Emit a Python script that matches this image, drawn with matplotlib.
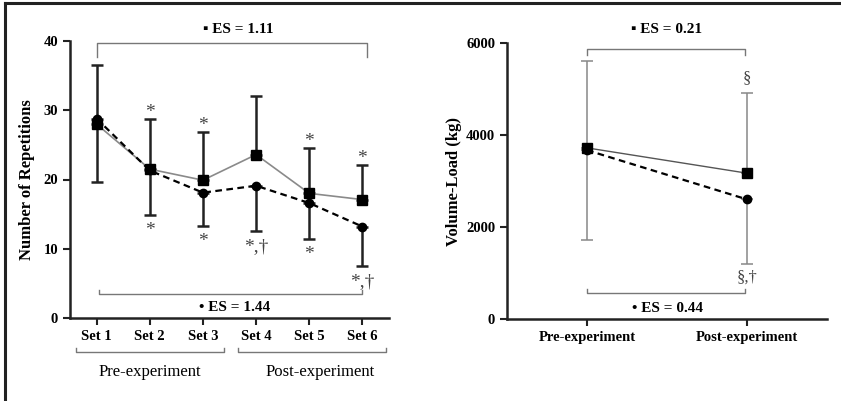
import matplotlib
matplotlib.use("Agg")
import matplotlib.pyplot as plt
from matplotlib.lines import Line2D

plt.rcParams['font.family'] = ['Liberation Serif', 'DejaVu Sans']

# left panel: repetitions per set
sets = ["Set 1", "Set 2", "Set 3", "Set 4", "Set 5", "Set 6"]
reps_sq = [28.0, 21.5, 19.9, 23.6, 18.0, 17.1]
reps_ci = [28.8, 21.3, 18.1, 19.1, 16.6, 13.2]
reps_sq_upper = [36.5, 28.7, 26.8, 32.1, 24.5, 22.1]
reps_ci_lower = [19.7, 14.9, 13.3, 12.6, 11.4, 7.5]
marks_above = ["", "*", "*", "", "*", "*"]
marks_below = ["", "*", "*", "*,†", "*", "*,†"]

# right panel: volume load
phases = ["Pre-experiment", "Post-experiment"]
vol_sq = [3720, 3170]
vol_ci = [3670, 2600]
vol_sq_upper = [5610, 4920]
vol_ci_lower = [1710, 1200]

fig = plt.figure(figsize=(8.41, 4.01), dpi=100)
ax1 = fig.add_axes([70 / 841, 83 / 401, 319 / 841, 277 / 401])
ax2 = fig.add_axes([507 / 841, 82 / 401, 320 / 841, 276 / 401])

# frame lines (top and left only, image is cropped)
fig.add_artist(Line2D([5 / 841, 1], [1 - 3 / 401, 1 - 3 / 401], color="#222222", lw=2.2))
fig.add_artist(Line2D([5 / 841, 5 / 841], [0, 1 - 3 / 401], color="#222222", lw=2.2))

br = "#777777"
x1 = list(range(1, 7))

# ---- left
up = [u - m for u, m in zip(reps_sq_upper, reps_sq)]
lo = [m - l for m, l in zip(reps_ci, reps_ci_lower)]
ax1.errorbar(x1, reps_sq, yerr=[[0] * 6, up], fmt="none", ecolor="#222222",
             elinewidth=1.8, capsize=4, capthick=1.8, zorder=2)
ax1.errorbar(x1, reps_ci, yerr=[lo, [0] * 6], fmt="none", ecolor="#222222",
             elinewidth=1.8, capsize=4, capthick=1.8, zorder=2)
ax1.plot(x1, reps_sq, color="#8a8a8a", lw=1.2, marker="s", ms=6.5,
         mfc="black", mec="black", zorder=3)
ax1.plot(x1, reps_ci, color="black", lw=1.6, ls=(0, (3, 2)), marker="o", ms=6,
         mfc="black", mec="black", zorder=4)

for i in range(6):
    if marks_above[i]:
        ax1.text(x1[i], reps_sq_upper[i] + 1.0, marks_above[i], ha="center",
                 va="center", fontsize=14, color="#444444")
    if marks_below[i]:
        ax1.text(x1[i], reps_ci_lower[i] - 2.3, marks_below[i], ha="center",
                 va="center", fontsize=14, color="#444444")

ax1.set_xlim(0.5, 6.5)
ax1.set_ylim(0, 40)
ax1.set_yticks([0, 10, 20, 30, 40])
ax1.set_xticks(x1)
ax1.set_xticklabels(sets)
ax1.set_ylabel("Number of Repetitions", fontsize=12, fontweight="bold", labelpad=6)

# brackets
ax1.plot([1, 1, 6.08, 6.08], [37.7, 39.7, 39.7, 37.7], color=br, lw=1, clip_on=False)
ax1.text(3.66, 41.6, "▪ ES = 1.11", ha="center", va="center", fontsize=11,
         fontweight="bold")
ax1.plot([1.05, 1.05, 6.0, 6.0], [4.0, 3.5, 3.5, 4.0], color=br, lw=1, clip_on=False)
ax1.text(3.6, 1.45, "• ES = 1.44", ha="center", va="center", fontsize=11,
         fontweight="bold")
ax1.plot([0.61, 0.61, 3.39, 3.39], [-4.3, -4.9, -4.9, -4.3], color=br, lw=1, clip_on=False)
ax1.plot([3.66, 3.66, 6.44, 6.44], [-4.3, -4.9, -4.9, -4.3], color=br, lw=1, clip_on=False)
ax1.text(2.0, -7.8, "Pre-experiment", ha="center", va="center", fontsize=12)
ax1.text(5.2, -7.8, "Post-experiment", ha="center", va="center", fontsize=12)

# ---- right
x2 = [0, 1]
up2 = [u - m for u, m in zip(vol_sq_upper, vol_sq)]
lo2 = [m - l for m, l in zip(vol_ci, vol_ci_lower)]
ax2.errorbar(x2, vol_sq, yerr=[[0, 0], up2], fmt="none", ecolor="#888888",
             elinewidth=1.1, capsize=4, capthick=1.1, zorder=2)
ax2.errorbar(x2, vol_ci, yerr=[lo2, [0, 0]], fmt="none", ecolor="#888888",
             elinewidth=1.1, capsize=4, capthick=1.1, zorder=2)
ax2.plot(x2, vol_sq, color="#555555", lw=1.0, marker="s", ms=6.5,
         mfc="black", mec="black", zorder=3)
ax2.plot(x2, vol_ci, color="black", lw=1.6, ls=(0, (3, 2)), marker="o", ms=6,
         mfc="black", mec="black", zorder=4)
ax2.text(1, 5240, "§", ha="center", va="center", fontsize=12, color="#444444")
ax2.text(1, 900, "§,†", ha="center", va="center", fontsize=12, color="#444444")

ax2.set_xlim(-0.5, 1.5)
ax2.set_ylim(0, 6000)
ax2.set_yticks([0, 2000, 4000, 6000])
ax2.set_xticks(x2)
ax2.set_xticklabels(phases)
ax2.set_ylabel("Volume-Load (kg)", fontsize=12, fontweight="bold", labelpad=3)

ax2.plot([0, 0, 0.99, 0.99], [5740, 5870, 5870, 5740], color=br, lw=1, clip_on=False)
ax2.text(0.5, 6283, "▪ ES = 0.21", ha="center", va="center", fontsize=11,
         fontweight="bold")
ax2.plot([0, 0, 0.99, 0.99], [652, 565, 565, 652], color=br, lw=1, clip_on=False)
ax2.text(0.5, 239, "• ES = 0.44", ha="center", va="center", fontsize=11,
         fontweight="bold")

for ax in (ax1, ax2):
    for s in ("top", "right"):
        ax.spines[s].set_visible(False)
    for s in ("left", "bottom"):
        ax.spines[s].set_linewidth(1.8)
        ax.spines[s].set_color("#222222")
    ax.tick_params(width=1.5, length=5, labelsize=10.5, color="#222222")
    for lab in ax.get_xticklabels() + ax.get_yticklabels():
        lab.set_fontweight("bold")

fig.savefig("out.png", dpi=100)
